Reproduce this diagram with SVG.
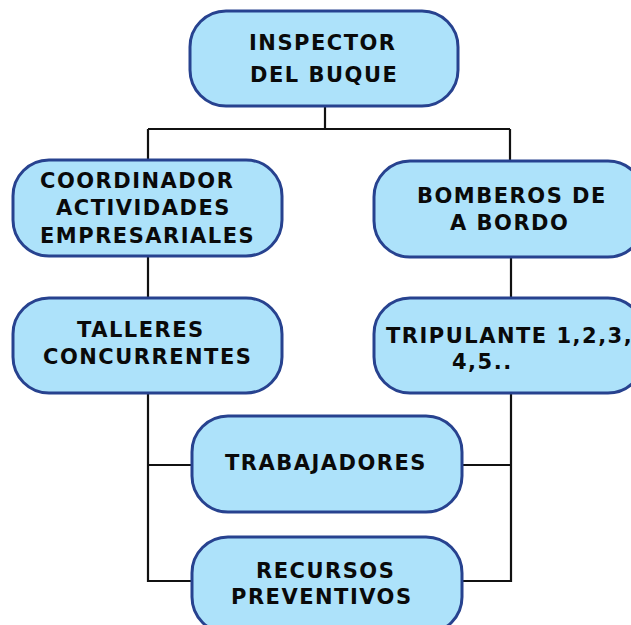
<svg xmlns="http://www.w3.org/2000/svg" width="631" height="625" viewBox="0 0 631 625">
<style>
.box{fill:#ade2fa;stroke:#27428f;stroke-width:3}
.t{font-family:"DejaVu Sans","Liberation Sans",sans-serif;font-weight:bold;font-size:21px;letter-spacing:1.5px;fill:#0a0a0a}
.c{fill:none;stroke:#111;stroke-width:2.2}
</style>
<rect width="631" height="625" fill="#fff"/>
<g id="connectors">
<path class="c" d="M325 106V129M148 129H510M148 129V160M510 129V161"/>
<path class="c" d="M148 256V298M511 257V298"/>
<path class="c" d="M148 393V581H192M148 465H192"/>
<path class="c" d="M511 393V581H462M511 465H462"/>
</g>
<g id="inspector">
<rect class="box" x="190" y="11" width="268" height="95" rx="36"/>
<text class="t" x="249" y="50">INSPECTOR</text>
<text class="t" x="250" y="82">DEL BUQUE</text>
</g>
<g id="coordinador">
<rect class="box" x="13" y="160" width="269" height="96" rx="36"/>
<text class="t" x="40" y="188">COORDINADOR</text>
<text class="t" x="56" y="215">ACTIVIDADES</text>
<text class="t" x="40" y="243">EMPRESARIALES</text>
</g>
<g id="bomberos">
<rect class="box" x="374" y="161" width="270" height="96" rx="36"/>
<text class="t" x="417" y="203">BOMBEROS DE</text>
<text class="t" x="450" y="230">A BORDO</text>
</g>
<g id="talleres">
<rect class="box" x="13" y="298" width="269" height="95" rx="36"/>
<text class="t" x="77" y="337">TALLERES</text>
<text class="t" x="43" y="364">CONCURRENTES</text>
</g>
<g id="tripulante">
<rect class="box" x="374" y="298" width="270" height="95" rx="36"/>
<text class="t" x="386" y="343">TRIPULANTE 1,2,3,</text>
<text class="t" x="452" y="369">4,5..</text>
</g>
<g id="trabajadores">
<rect class="box" x="192" y="416" width="270" height="96" rx="36"/>
<text class="t" x="225" y="470">TRABAJADORES</text>
</g>
<g id="recursos">
<rect class="box" x="192" y="537" width="270" height="96" rx="36"/>
<text class="t" x="256" y="578">RECURSOS</text>
<text class="t" x="231" y="604">PREVENTIVOS</text>
</g>
</svg>
